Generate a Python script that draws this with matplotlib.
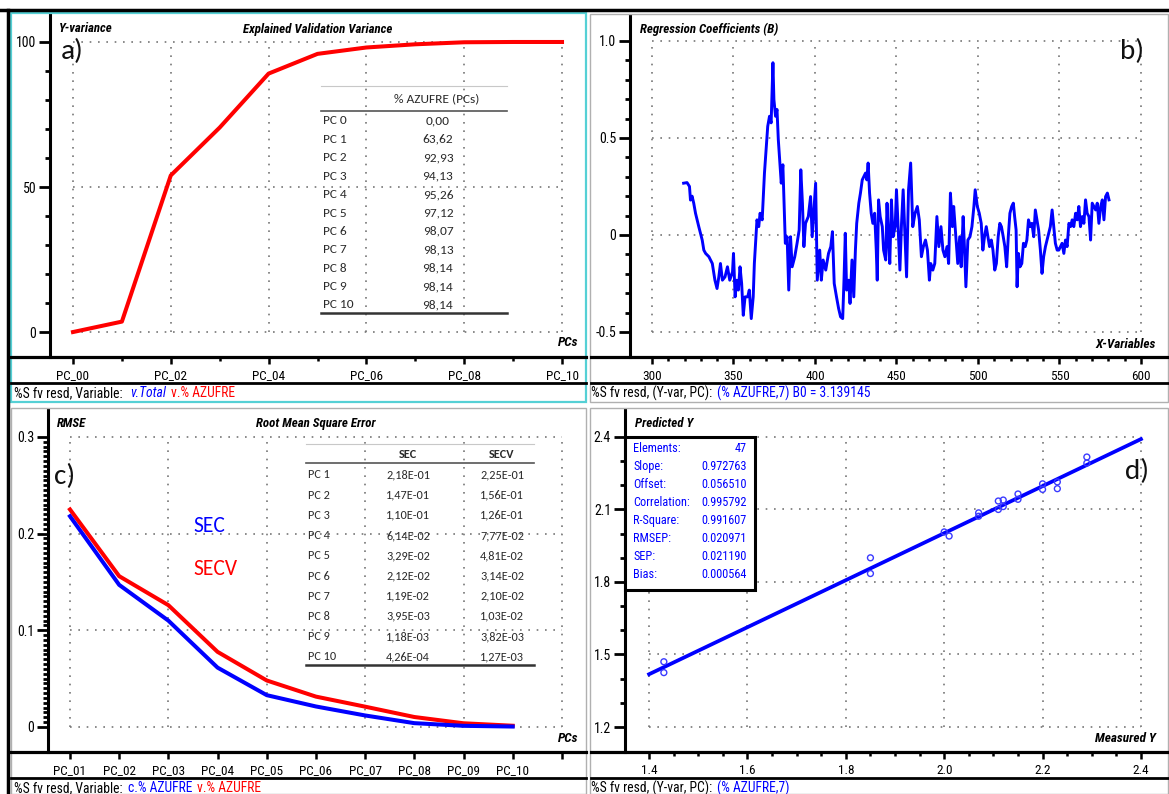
import numpy as np
import matplotlib
matplotlib.use("Agg")
import matplotlib.pyplot as plt
from matplotlib import font_manager as fm
from matplotlib.lines import Line2D
from matplotlib.patches import Rectangle

# ---------------- data ----------------
# a) explained validation variance
pcs_a = list(range(0, 11))
pcs_a_labels = ["PC_00", "PC_02", "PC_04", "PC_06", "PC_08", "PC_10"]
var_a = [0.0, 3.6, 54.0, 70.5, 89.1, 95.9, 98.1, 99.2, 99.9, 100.0, 100.0]
tab_a_rows = ["PC 0", "PC 1", "PC 2", "PC 3", "PC 4", "PC 5", "PC 6", "PC 7", "PC 8", "PC 9", "PC 10"]
tab_a_vals = ["0,00", "63,62", "92,93", "94,13", "95,26", "97,12", "98,07", "98,13", "98,14", "98,14", "98,14"]

# b) regression coefficients
bx = [319.4, 321.5, 323.0, 323.6, 324.6, 325.6, 326.7, 328.7, 330.8, 331.8, 332.9, 334.9, 337.0,
      338.6, 339.9, 341.0, 342.0, 343.2, 344.8, 346.3, 347.7, 349.4, 350.0, 351.0, 352.0, 353.0,
      354.0, 355.0, 356.0, 357.1, 358.7, 359.7, 360.9, 362.1, 362.8, 363.8, 364.4, 365.5, 366.3,
      367.6, 369.0, 370.0, 371.0, 372.1, 373.1, 374.2, 374.8, 375.8, 376.7, 377.5, 378.3, 379.3,
      380.3, 381.0, 381.8, 382.9, 383.9, 385.0, 386.0, 387.6, 389.0, 390.3, 391.3, 392.3, 393.2,
      394.2, 395.9,
      397.3, 398.3, 400.4, 401.4, 402.9, 403.9, 405.0, 406.6, 408.3, 409.7, 410.7, 411.8, 413.2,
      414.5, 415.7, 417.0, 417.8, 418.6, 419.4, 420.7, 421.5, 422.7, 423.8, 424.8, 425.6, 426.9,
      427.9, 429.0, 430.0, 431.0, 431.8, 432.6, 433.5, 434.5, 435.5, 436.6, 437.6, 438.2, 439.0,
      440.0, 441.3, 442.1, 443.4, 444.2, 445.0, 445.9, 446.9, 447.9, 449.2, 450.0, 451.0, 452.1,
      453.1, 454.1, 455.2, 456.2, 457.4, 458.7, 460.0, 461.4, 462.8, 464.0, 465.3, 466.5, 467.8,
      469.0, 470.2, 471.0, 472.3, 473.5, 474.8, 476.0, 477.3, 478.5, 479.7, 481.0, 482.0, 483.1,
      484.3, 485.1, 486.4, 487.6, 488.8, 489.7, 490.9, 491.7, 492.6, 493.8, 495.1, 496.3, 497.5,
      498.3, 499.6, 500.8,
      502.0, 503.0, 504.0, 505.1, 506.1, 507.1, 508.2, 509.2, 510.3, 511.3, 512.4, 513.4, 514.4,
      515.5, 516.5, 517.6, 518.6, 519.6, 520.7, 521.7, 522.5, 523.4, 524.0, 524.8, 525.8, 526.9,
      527.9, 529.0, 530.0, 531.0, 532.1, 533.1, 534.2, 535.2, 536.2, 537.2, 538.3, 539.3, 540.3,
      541.4, 542.4, 543.4, 544.4, 545.5, 546.5, 547.5, 548.6, 549.6, 550.6, 551.6, 552.7, 553.7,
      554.7, 555.8, 556.8, 557.8, 558.8, 559.9, 560.9, 561.9, 562.9, 564.0, 565.0, 566.0, 567.0,
      568.1, 569.1, 570.1, 571.1, 572.2, 573.2, 574.2, 575.3, 576.3, 577.3, 578.3, 579.4, 580.4]
by = [0.267, 0.270, 0.250, 0.180, 0.200, 0.164, 0.112, 0.043, -0.026, -0.078, -0.095, -0.112, -0.147,
      -0.233, -0.276, -0.216, -0.147, -0.233, -0.216, -0.164, -0.233, -0.190, -0.095, -0.319, -0.233, -0.284,
      -0.164, -0.250, -0.414, -0.319, -0.319, -0.284, -0.431, -0.319, -0.147, -0.009, 0.078, 0.043, 0.112,
      0.078, 0.319, 0.440, 0.560, 0.612, 0.578, 0.888, 0.698, 0.612, 0.647, 0.491, 0.388, 0.267,
      0.362, 0.181, -0.043, -0.009, -0.284, -0.009, -0.164, -0.112, -0.043, 0.026, 0.336, 0.164, -0.060,
      0.060, 0.095,
      0.198, -0.009, 0.267, -0.233, -0.078, -0.233, -0.129, -0.181, -0.095, -0.060, 0.017, -0.250, -0.319,
      -0.379, -0.422, -0.431, -0.233, 0.009, -0.284, -0.233, -0.353, -0.129, -0.319, -0.078, 0.060, 0.164,
      0.216, 0.284, 0.302, 0.319, 0.284, 0.371, 0.216, 0.112, 0.060, 0.112, -0.078, -0.233, 0.181,
      0.095, 0.043, -0.078, -0.129, 0.164, -0.009, -0.147, 0.181, -0.009, 0.043, 0.233, 0.043, -0.181,
      0.060, 0.233, -0.009, -0.216, 0.233, 0.371, 0.043, 0.112, 0.147, 0.078, -0.112, -0.060, -0.026,
      -0.078, -0.233, -0.147, -0.181, -0.147, 0.095, -0.060, 0.043, -0.078, -0.112, -0.060, -0.147, 0.216,
      0.043, 0.147, -0.009, -0.147, -0.009, -0.164, 0.095, -0.060, -0.267, -0.026, -0.009, 0.043, 0.147,
      0.233, 0.147, 0.112,
      0.060, -0.078, -0.009, 0.043, -0.009, -0.060, -0.026, -0.078, -0.181, -0.147, -0.009, 0.060, 0.043,
      -0.009, -0.060, -0.164, -0.009, 0.112, 0.147, 0.164, 0.095, 0.026, -0.267, -0.095, -0.164, -0.147,
      -0.043, -0.060, -0.026, 0.078, 0.043, 0.060, -0.009, 0.129, 0.078, 0.026, -0.078, -0.198, -0.112,
      -0.060, -0.026, 0.009, 0.043, 0.129, 0.043, -0.043, -0.078, -0.078, -0.060, -0.043, -0.095, -0.026,
      -0.060, 0.060, 0.043, 0.078, 0.043, 0.112, 0.078, 0.147, 0.043, 0.095, 0.060, 0.181, 0.112,
      0.095, -0.026, 0.164, 0.147, 0.129, 0.164, 0.060, 0.147, 0.181, 0.078, 0.198, 0.216, 0.181]

# c) RMSE
pcs_c = [1, 2, 3, 4, 5, 6, 7, 8, 9, 10]
pcs_c_labels = ["PC_01", "PC_02", "PC_03", "PC_04", "PC_05", "PC_06", "PC_07", "PC_08", "PC_09", "PC_10"]
sec = [0.218, 0.147, 0.110, 0.0614, 0.0329, 0.0212, 0.0119, 0.00395, 0.00118, 0.000426]
secv = [0.225, 0.156, 0.126, 0.0777, 0.0481, 0.0314, 0.0210, 0.0103, 0.00382, 0.00127]
tab_c_rows = ["PC 1", "PC 2", "PC 3", "PC 4", "PC 5", "PC 6", "PC 7", "PC 8", "PC 9", "PC 10"]
tab_c_sec = ["2,18E-01", "1,47E-01", "1,10E-01", "6,14E-02", "3,29E-02", "2,12E-02", "1,19E-02",
             "3,95E-03", "1,18E-03", "4,26E-04"]
tab_c_secv = ["2,25E-01", "1,56E-01", "1,26E-01", "7,77E-02", "4,81E-02", "3,14E-02", "2,10E-02",
              "1,03E-02", "3,82E-03", "1,27E-03"]

# d) predicted vs measured
meas = [1.43, 1.43, 1.85, 1.85, 2.00, 2.01, 2.07, 2.07, 2.11, 2.11, 2.12, 2.12, 2.15, 2.15,
        2.20, 2.20, 2.23, 2.23, 2.29, 2.29]
pred = [1.470, 1.425, 1.900, 1.835, 2.007, 1.990, 2.086, 2.072, 2.135, 2.100, 2.139, 2.112, 2.164, 2.142,
        2.206, 2.183, 2.214, 2.186, 2.317, 2.292]
stat_names = ["Elements:", "Slope:", "Offset:", "Correlation:", "R-Square:", "RMSEP:", "SEP:", "Bias:"]
stat_vals = ["47", "0.972763", "0.056510", "0.995792", "0.991607", "0.020971", "0.021190", "0.000564"]
slope = 0.972763
offset = 0.056510

# ---------------- fonts ----------------
names = {f.name for f in fm.fontManager.ttflist}
def pick(c):
    for n in c:
        if n in names:
            return n
    return "DejaVu Sans"
NARROW = pick(["Liberation Sans Narrow", "Arial Narrow", "DejaVu Sans Condensed", "Roboto Condensed", "Liberation Sans"])
CAL = pick(["Carlito", "Calibri", "Lato", "Open Sans"])

W, H = 1169, 794
fig = plt.figure(figsize=(W / 100, H / 100), dpi=100)
fig.patch.set_facecolor("white")
renderer = fig.canvas.get_renderer()

def T(x, y, s, **kw):
    kw.setdefault("va", "center")
    return fig.text(x / W, 1 - y / H, s, **kw)

def chain(x, y, pieces, gap=5, **kw):
    # pieces: list of (text, colour, extra kwargs, minimal x)
    for s, col, extra, xmin in pieces:
        x = max(x, xmin)
        t = T(x, y, s, color=col, **kw, **extra)
        bb = t.get_window_extent(renderer)
        x = bb.x1 + gap

def L(x0, y0, x1, y1, **kw):
    fig.add_artist(Line2D([x0 / W, x1 / W], [1 - y0 / H, 1 - y1 / H], transform=fig.transFigure, **kw))

def R(x0, y0, x1, y1, **kw):
    fig.add_artist(Rectangle((x0 / W, 1 - y1 / H), (x1 - x0) / W, (y1 - y0) / H,
                             transform=fig.transFigure, fill=False, **kw))

def mk(l, t, r, b):
    ax = fig.add_axes([l / W, 1 - b / H, (r - l) / W, (b - t) / H])
    ax.set_facecolor("none")
    for s in ["top", "right", "bottom"]:
        ax.spines[s].set_visible(False)
    ax.spines["left"].set_linewidth(2.2)
    ax.spines["left"].set_color("black")
    ax.tick_params(axis="y", which="major", direction="out", length=8, width=2.0, pad=2,
                   labelsize=10, labelfontfamily=NARROW)
    ax.tick_params(axis="y", which="minor", direction="out", length=3.5, width=2.0)
    ax.tick_params(axis="x", which="major", direction="out", length=5, width=1.8, pad=4,
                   labelsize=9.5, labelfontfamily=NARROW)
    ax.tick_params(axis="x", which="minor", direction="out", length=3, width=1.8)
    return ax

def grid(ax, xs, ys):
    x0, x1 = min(xs), max(xs)
    y0, y1 = min(ys), max(ys)
    for x in xs:
        ax.plot([x, x], [y0, y1], color="#777777", lw=1.2, ls=(0, (1, 4)), zorder=1)
    for y in ys:
        ax.plot([x0, x1], [y, y], color="#777777", lw=1.2, ls=(0, (1, 4)), zorder=1)

TT = dict(fontfamily=NARROW, fontsize=9.3, fontweight="bold", fontstyle="italic")
AX = dict(fontfamily=NARROW, fontsize=9.5, fontweight="bold", fontstyle="italic", ha="right")
PL = dict(fontfamily=CAL, fontsize=21, color="#111111")
fa = dict(fontfamily=NARROW, fontsize=9.8)

# ---------------- panel frames ----------------
L(0, 10, W, 10, color="black", lw=2.5)
L(8, 10, 8, H, color="black", lw=2.5)
R(590, 14, 1168, 402, color="#b0b0b0", lw=1.0)
R(11, 408, 586, 794, color="#b0b0b0", lw=1.0)
R(590, 408, 1168, 794, color="#b0b0b0", lw=1.0)
R(11, 13, 586, 402, color="#55d0d5", lw=1.6)
for (l, r) in [(11, 586), (591, 1168)]:
    for (yb, yf) in [(357, 383), (752, 778)]:
        L(l, yb, r, yb, color="black", lw=2.3)
        L(l, yf, r, yf, color="black", lw=2.0)

# ---------------- a) ----------------
ax = mk(50, 15, 585, 357)
ax.set_xlim(-0.47, 10.47)
ax.set_ylim(-8.6, 109.3)
grid(ax, [0, 2, 4, 6, 8, 10], [0, 50, 100])
ax.plot(pcs_a, var_a, color="red", lw=2.9, zorder=3)
ax.set_xticks([0, 2, 4, 6, 8, 10])
ax.set_xticklabels(pcs_a_labels)
ax.set_xticks(range(0, 11), minor=True)
ax.set_yticks([0, 50, 100])
ax.set_yticks(range(0, 101, 10), minor=True)
T(59, 29, "Y-variance", **TT)
T(318, 29, "Explained Validation Variance", ha="center", **TT)
T(578, 343, "PCs", **AX)
T(61, 51, "a)", **PL)
# table a
ta = dict(fontfamily=CAL, fontsize=9.6, color="#2a2a2a")
L(321, 86, 507, 86, color="#c8c8c8", lw=0.8)
L(321, 111, 507, 111, color="#555555", lw=1.2)
L(321, 313, 507, 313, color="#333333", lw=1.8)
T(437, 99, "% AZUFRE (PCs)", ha="center", **ta)
for i, (rn, rv) in enumerate(zip(tab_a_rows, tab_a_vals)):
    T(323, 121 + 18.4 * i, rn, **ta)
    T(438, 121 + 18.4 * i, rv, ha="center", **ta)
# footer a
chain(14, 393, [("%S fv resd, Variable:", "black", {}, 0),
                ("v.Total", "blue", {"fontstyle": "italic"}, 130),
                ("v.% AZUFRE", "red", {}, 168)], **fa)

# ---------------- b) ----------------
ax = mk(630, 15, 1168, 357)
ax.set_xlim(286.5, 616.6)
ax.set_ylim(-0.629, 1.134)
grid(ax, [300, 350, 400, 450, 500, 550, 600], [-0.5, 0, 0.5, 1.0])
ax.plot(bx, by, color="blue", lw=2.1, zorder=3)
ax.set_xticks([300, 350, 400, 450, 500, 550, 600])
ax.set_xticks(range(300, 601, 10), minor=True)
ax.set_yticks([-0.5, 0, 0.5, 1.0])
ax.set_yticklabels(["-0.5", "0", "0.5", "1.0"])
ax.set_yticks(np.round(np.arange(-0.5, 1.01, 0.1), 2), minor=True)
T(640, 29, "Regression Coefficients (B)", **TT)
T(1156, 344, "X-Variables", **AX)
T(1120, 51, "b)", **PL)
chain(591, 393, [("%S fv resd, (Y-var, PC):", "black", {}, 0),
                 ("(% AZUFRE,7) B0 = 3.139145", "blue", {}, 717)], **fa)

# ---------------- c) ----------------
ax = mk(48, 410, 585, 752)
ax.set_xlim(0.553, 11.47)
ax.set_ylim(-0.0259, 0.3279)
grid(ax, [1, 3, 5, 7, 9, 11], [0, 0.1, 0.2, 0.3])
ax.plot(pcs_c, secv, color="red", lw=2.9, zorder=3)
ax.plot(pcs_c, sec, color="blue", lw=2.9, zorder=4)
ax.set_xticks(pcs_c + [11])
ax.set_xticklabels(pcs_c_labels + [""])
ax.set_yticks([0, 0.1, 0.2, 0.3])
ax.set_yticklabels(["0", "0.1", "0.2", "0.3"])
ax.set_yticks(np.round(np.arange(0, 0.3001, 0.005), 3), minor=True)
T(57, 424, "RMSE", **TT)
T(316, 424, "Root Mean Square Error", ha="center", **TT)
T(578, 739, "PCs", **AX)
T(54, 476, "c)", **PL)
T(193, 526, "SEC", fontfamily=CAL, fontsize=15.5, color="blue")
T(193, 569, "SECV", fontfamily=CAL, fontsize=15.5, color="red")
# table c
tc = dict(fontfamily=CAL, fontsize=8.8, color="#2a2a2a")
L(306, 444, 534, 444, color="#c8c8c8", lw=0.8)
L(306, 463, 534, 463, color="#555555", lw=1.2)
L(306, 665, 534, 665, color="#333333", lw=1.8)
T(408, 454, "SEC", fontweight="bold", ha="center", **tc)
T(502, 454, "SECV", fontweight="bold", ha="center", **tc)
for i, (rn, v1, v2) in enumerate(zip(tab_c_rows, tab_c_sec, tab_c_secv)):
    yy = 475 + 20.2 * i
    T(308, yy, rn, **tc)
    T(408, yy, v1, ha="center", **tc)
    T(502, yy, v2, ha="center", **tc)
chain(14, 788, [("%S fv resd, Variable:", "black", {}, 0),
                ("c.% AZUFRE", "blue", {}, 127),
                ("v.% AZUFRE", "red", {}, 192)], **fa)

# ---------------- d) ----------------
ax = mk(625, 410, 1168, 752)
ax.set_xlim(1.351, 2.455)
ax.set_ylim(1.0966, 2.5115)
grid(ax, [1.4, 1.6, 1.8, 2.0, 2.2, 2.4], [1.2, 1.5, 1.8, 2.1, 2.4])
lx = np.array([1.4, 2.4])
ax.plot(lx, slope * lx + offset, color="blue", lw=2.7, zorder=3)
ax.scatter(meas, pred, s=18, facecolors="none", edgecolors="#3a3aff", linewidths=1.0, zorder=4)
ax.set_xticks([1.4, 1.6, 1.8, 2.0, 2.2, 2.4])
ax.set_xticklabels(["1.4", "1.6", "1.8", "2.0", "2.2", "2.4"])
ax.set_xticks(np.round(np.arange(1.4, 2.401, 0.05), 2), minor=True)
ax.set_yticks([1.2, 1.5, 1.8, 2.1, 2.4])
ax.set_yticks(np.round(np.arange(1.2, 2.401, 0.1), 1), minor=True)
T(635, 424, "Predicted Y", **TT)
T(1156, 739, "Measured Y", **AX)
T(1125, 471, "d)", **PL)
fig.add_artist(Rectangle((625 / W, 1 - 590 / H), 130 / W, 153 / H, transform=fig.transFigure,
                         facecolor="white", edgecolor="black", lw=2.2, zorder=5))
for i, (sn, sv) in enumerate(zip(stat_names, stat_vals)):
    yy = 448 + 18.1 * i
    T(633, yy, sn, fontfamily=NARROW, fontsize=8.8, color="blue", zorder=6)
    T(747, yy, sv, fontfamily=NARROW, fontsize=8.8, color="blue", ha="right", zorder=6)
chain(591, 788, [("%S fv resd, (Y-var, PC):", "black", {}, 0),
                 ("(% AZUFRE,7)", "blue", {}, 717)], **fa)

fig.savefig("out.png", dpi=100)
